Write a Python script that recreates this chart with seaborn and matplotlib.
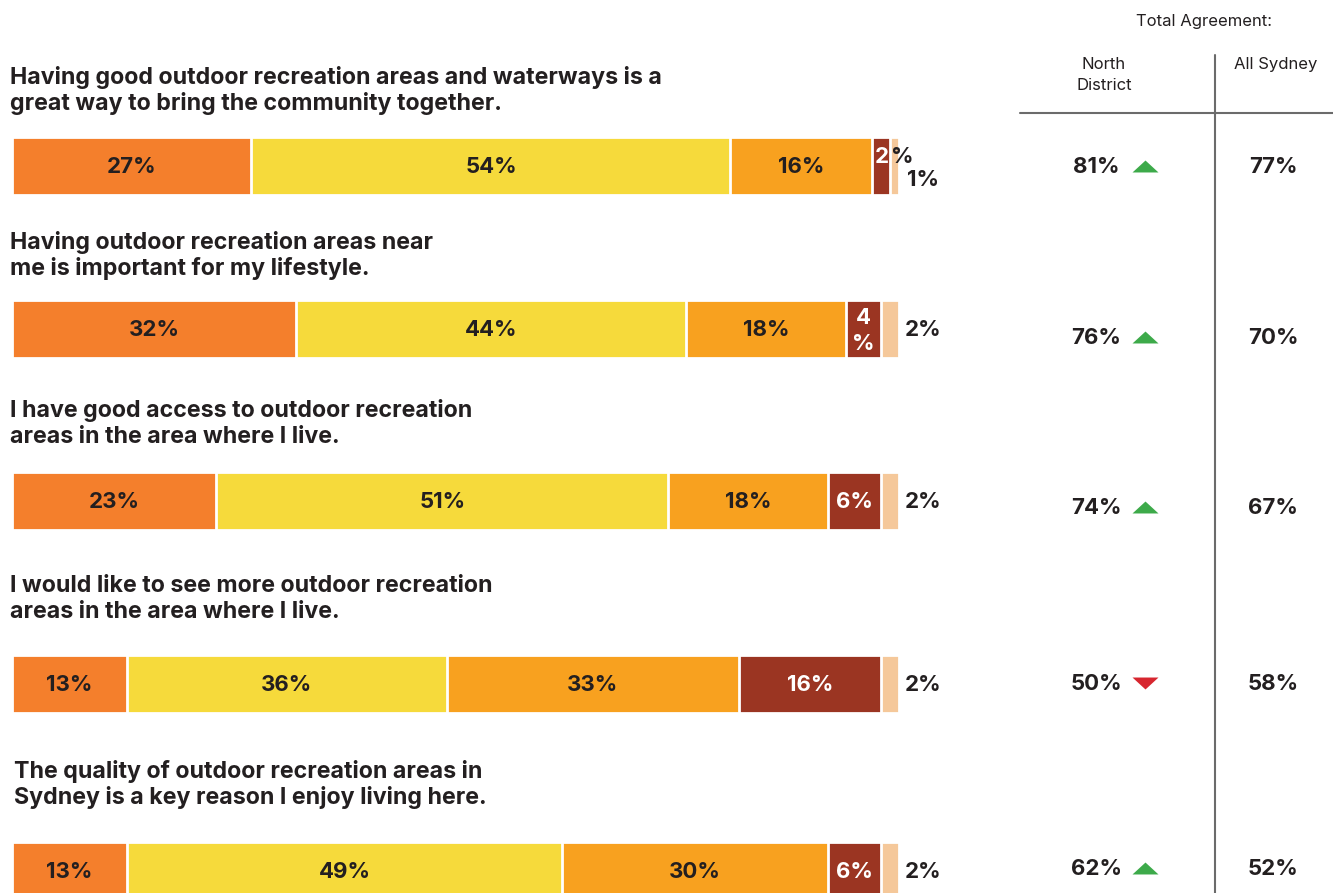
import numpy as np
import pandas as pd
import seaborn as sns
import matplotlib.pyplot as plt

# survey statements (one row each)
questions = [
    "Having good outdoor recreation areas and waterways is a\ngreat way to bring the community together.",
    "Having outdoor recreation areas near\nme is important for my lifestyle.",
    "I have good access to outdoor recreation\nareas in the area where I live.",
    "I would like to see more outdoor recreation\nareas in the area where I live.",
    "The quality of outdoor recreation areas in\nSydney is a key reason I enjoy living here.",
]

# response shares (%)
strongly_agree = [27, 32, 23, 13, 13]
somewhat_agree = [54, 44, 51, 36, 49]
neutral = [16, 18, 18, 33, 30]
somewhat_disagree = [2, 4, 6, 16, 6]
strongly_disagree = [1, 2, 2, 2, 2]

# total agreement table
north_district = [81, 76, 74, 50, 62]
all_sydney = [77, 70, 67, 58, 52]
trend = ["up", "up", "up", "down", "up"]

segments = ["Strongly agree", "Somewhat agree", "Neither", "Somewhat disagree", "Strongly disagree"]
colors = ["#F47F2C", "#F6DA3B", "#F8A11F", "#9B3522", "#F5C89A"]
dark = "#231F20"

df = pd.DataFrame(
    dict(zip(segments, [strongly_agree, somewhat_agree, neutral, somewhat_disagree, strongly_disagree]))
)

# layout (pixels from top of the 1333x893 canvas)
W, H = 1333, 893
row_y = [166, 329, 501, 684, 871]
title_y = [84, 249, 417, 592, 778]
title_x = [10, 10, 10, 10, 14]
value_y = [173, 344, 514, 690, 875]
bar_h = 58
px = 8.87  # pixels per percent
left = 12

sns.set_theme(style="white")
plt.rcParams["font.family"] = ["Inter", "DejaVu Sans"]

fig = plt.figure(figsize=(W / 100, H / 100), dpi=100)
ax = fig.add_axes([0, 0, 1, 1])

cum = df.cumsum(axis=1)
cum["y"] = row_y
width = bar_h / np.diff(sorted(row_y)).min()
for k in reversed(range(len(segments))):
    sns.barplot(data=cum, x=segments[k], y="y", orient="h", native_scale=True,
                color=colors[k], saturation=1, width=width, errorbar=None,
                edgecolor="white", linewidth=2, ax=ax)

ax.set_xlim(-left / px, (W - left) / px)
ax.set_ylim(H, 0)
ax.axis("off")

fs = 16
for i in range(len(questions)):
    lines = questions[i].split("\n")
    for j, line in enumerate(lines):
        ax.text(title_x[i] / px - left / px, title_y[i] + 26 * j, line, fontsize=16.7,
                fontweight="bold", color=dark, ha="left", va="baseline")

    start = 0
    yb = row_y[i] + 7
    for k, seg in enumerate(segments):
        v = df.loc[i, seg]
        mid = start + v / 2
        if k == 4:
            dy = 13 if v < 2 else 0
            ax.text(100.9 if v < 2 else 100.7, yb + dy, f"{v}%", fontsize=fs,
                    fontweight="bold", color=dark, ha="left", va="baseline")
        elif v <= 2:
            ax.text(start + v - 0.15, yb - 10, f"{v}", fontsize=fs, fontweight="bold",
                    color="white", ha="right", va="baseline")
            ax.text(start + v + 0.05, yb - 10, "%", fontsize=fs, fontweight="bold",
                    color=dark, ha="left", va="baseline")
        elif v < 5:
            ax.text(mid, row_y[i] - 5, f"{v}", fontsize=fs, fontweight="bold",
                    color="white", ha="center", va="baseline")
            ax.text(mid, row_y[i] + 21, "%", fontsize=fs, fontweight="bold",
                    color="white", ha="center", va="baseline")
        else:
            ax.text(mid, yb, f"{v}%", fontsize=fs, fontweight="bold",
                    color="white" if k == 3 else dark, ha="center", va="baseline")
        start += v

# right-hand table
tab = fig.add_axes([0, 0, 1, 1])
tab.set_xlim(0, W)
tab.set_ylim(H, 0)
tab.axis("off")
tab.patch.set_alpha(0)

grey = "#6B6B6B"
tab.plot([1215, 1215], [55, H], color=grey, lw=1.5)
tab.plot([1020, W], [113, 113], color=grey, lw=1.5)
tab.text(1204, 26, "Total Agreement:", fontsize=12, color=dark, ha="center", va="baseline")
tab.text(1104, 69, "North", fontsize=12, color=dark, ha="center", va="baseline")
tab.text(1104, 90, "District", fontsize=12, color=dark, ha="center", va="baseline")
tab.text(1276, 69, "All Sydney", fontsize=12, color=dark, ha="center", va="baseline")

up = [(-1, -0.46), (1, -0.46), (0, 0.46)]
down = [(-1, 0.46), (1, 0.46), (0, -0.46)]
for i in range(len(questions)):
    tab.text(1096, value_y[i], f"{north_district[i]}%", fontsize=fs, fontweight="bold",
             color=dark, ha="center", va="baseline")
    tab.text(1273, value_y[i], f"{all_sydney[i]}%", fontsize=fs, fontweight="bold",
             color=dark, ha="center", va="baseline")
    is_up = trend[i] == "up"
    tab.scatter([1145], [value_y[i] - 7], marker=up if is_up else down, s=350,
                color="#3DAA4A" if is_up else "#D7262F", linewidths=0)

fig.savefig("out.png", dpi=100)
